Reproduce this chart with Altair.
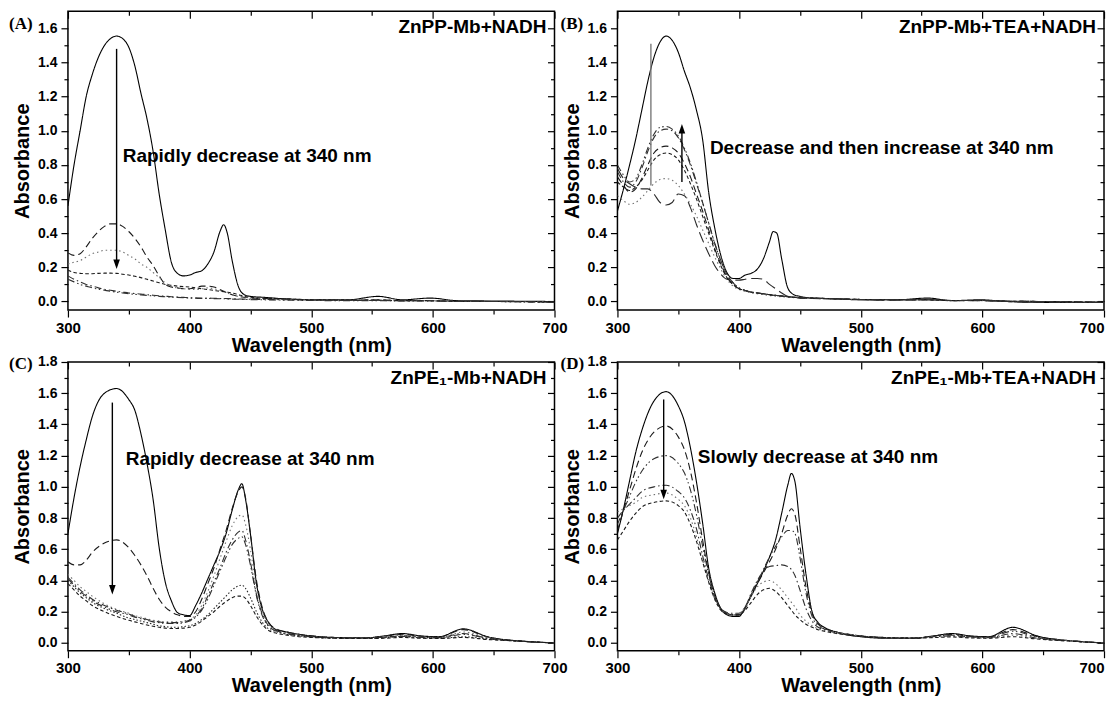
import altair as alt
import pandas as pd

FONT = "Liberation Sans"
SERIF = "Liberation Serif"

# ---------------- data: panels A/B (ZnPP-Mb) ----------------
wl_AB = [300, 305, 310, 315, 320, 325, 330, 335, 340, 345, 350, 355, 360, 365, 370, 375, 380, 385, 390, 395, 400,
         405, 410, 415, 420, 425, 428, 431, 435, 440, 445, 450,
         460, 480, 500, 530, 555, 575, 598, 620, 650, 700]

A_solid = [0.56, 0.80, 1.00, 1.20, 1.33, 1.43, 1.50, 1.54, 1.555, 1.54, 1.49, 1.38, 1.22, 1.07, 0.88, 0.63, 0.42, 0.23, 0.165, 0.15, 0.155,
           0.17, 0.18, 0.22, 0.29, 0.41, 0.45, 0.40, 0.24, 0.09, 0.04, 0.03,
           0.025, 0.015, 0.01, 0.01, 0.03, 0.01, 0.02, 0.005, 0.003, 0.0]
A_dash = [0.285, 0.27, 0.28, 0.32, 0.37, 0.41, 0.44, 0.455, 0.455, 0.44, 0.41, 0.37, 0.32, 0.26, 0.21, 0.15, 0.10, 0.085, 0.08, 0.075, 0.075,
          0.08, 0.09, 0.09, 0.085, 0.07, 0.06, 0.05, 0.04, 0.03, 0.025, 0.02,
          0.018, 0.015, 0.01, 0.008, 0.01, 0.005, 0.005, 0.0, 0.0, -0.005]
A_dot = [0.22, 0.23, 0.24, 0.26, 0.28, 0.29, 0.30, 0.30, 0.30, 0.29, 0.27, 0.25, 0.22, 0.20, 0.17, 0.14, 0.11, 0.09, 0.08, 0.075, 0.07,
         0.07, 0.075, 0.08, 0.075, 0.065, 0.06, 0.05, 0.04, 0.03, 0.025, 0.02,
         0.015, 0.012, 0.01, 0.008, 0.01, 0.005, 0.005, 0.0, 0.0, 0.0]
A_sdash = [0.185, 0.17, 0.165, 0.163, 0.163, 0.165, 0.166, 0.166, 0.165, 0.16, 0.155, 0.148, 0.14, 0.13, 0.12, 0.11, 0.10, 0.095, 0.09, 0.087, 0.085,
           0.08, 0.075, 0.07, 0.065, 0.06, 0.058, 0.055, 0.05, 0.04, 0.03, 0.025,
           0.02, 0.015, 0.01, 0.008, 0.008, 0.005, 0.005, 0.0, 0.0, 0.0]
A_dashdot = [0.15, 0.13, 0.115, 0.10, 0.09, 0.08, 0.072, 0.066, 0.06, 0.055, 0.05, 0.047, 0.044, 0.04, 0.037, 0.034, 0.031, 0.028, 0.026, 0.024, 0.022,
             0.021, 0.02, 0.02, 0.019, 0.018, 0.018, 0.017, 0.016, 0.015, 0.014, 0.013,
             0.012, 0.01, 0.008, 0.006, 0.006, 0.004, 0.004, 0.002, 0.0, -0.005]
A_dashdotdot = [0.13, 0.115, 0.10, 0.09, 0.08, 0.072, 0.066, 0.06, 0.055, 0.05, 0.046, 0.042, 0.039, 0.036, 0.033, 0.03, 0.028, 0.026, 0.024, 0.022, 0.02,
                0.019, 0.018, 0.018, 0.017, 0.016, 0.016, 0.015, 0.014, 0.013, 0.012, 0.011,
                0.01, 0.008, 0.006, 0.005, 0.005, 0.003, 0.003, 0.001, 0.0, -0.005]

B_solid = [0.53, 0.66, 0.80, 0.95, 1.12, 1.29, 1.43, 1.52, 1.555, 1.53, 1.46, 1.35, 1.25, 1.12, 0.95, 0.64, 0.43, 0.27, 0.17, 0.135, 0.135,
           0.155, 0.165, 0.19, 0.25, 0.35, 0.41, 0.40, 0.25, 0.08, 0.04, 0.03,
           0.02, 0.015, 0.01, 0.01, 0.02, 0.005, 0.01, 0.0, -0.005, -0.005]
B_ldash = [0.78, 0.72, 0.69, 0.67, 0.66, 0.66, 0.63, 0.58, 0.565, 0.58, 0.63, 0.62, 0.55, 0.45, 0.36, 0.28, 0.21, 0.16, 0.13, 0.125, 0.125,
           0.13, 0.135, 0.135, 0.13, 0.10, 0.085, 0.07, 0.05, 0.03, 0.025, 0.02,
           0.018, 0.015, 0.01, 0.008, 0.01, 0.005, 0.005, 0.0, -0.005, -0.005]
B_dot = [0.62, 0.59, 0.57, 0.58, 0.61, 0.65, 0.69, 0.715, 0.72, 0.71, 0.68, 0.63, 0.57, 0.50, 0.42, 0.34, 0.26, 0.19, 0.13, 0.09, 0.07,
         0.06, 0.05, 0.045, 0.04, 0.035, 0.033, 0.03, 0.028, 0.025, 0.023, 0.02,
         0.018, 0.015, 0.012, 0.01, 0.01, 0.005, 0.005, 0.0, 0.0, -0.005]
B_sdash = [0.70, 0.67, 0.65, 0.67, 0.71, 0.77, 0.83, 0.86, 0.87, 0.86, 0.83, 0.77, 0.69, 0.60, 0.50, 0.40, 0.30, 0.21, 0.14, 0.10, 0.075,
           0.065, 0.055, 0.05, 0.045, 0.04, 0.037, 0.035, 0.032, 0.028, 0.025, 0.022,
           0.02, 0.016, 0.012, 0.01, 0.01, 0.006, 0.006, 0.002, 0.0, -0.005]
B_dash = [0.73, 0.68, 0.64, 0.66, 0.72, 0.80, 0.87, 0.90, 0.91, 0.90, 0.87, 0.81, 0.73, 0.63, 0.53, 0.42, 0.31, 0.22, 0.145, 0.10, 0.075,
          0.065, 0.055, 0.05, 0.045, 0.04, 0.037, 0.035, 0.032, 0.028, 0.025, 0.022,
          0.02, 0.016, 0.012, 0.01, 0.01, 0.006, 0.006, 0.002, 0.0, -0.005]
B_dashdot = [0.76, 0.70, 0.67, 0.70, 0.78, 0.88, 0.96, 1.00, 1.01, 1.00, 0.96, 0.89, 0.80, 0.69, 0.58, 0.46, 0.34, 0.24, 0.16, 0.11, 0.08,
             0.065, 0.055, 0.05, 0.045, 0.04, 0.037, 0.035, 0.032, 0.028, 0.025, 0.022,
             0.02, 0.016, 0.012, 0.01, 0.01, 0.006, 0.006, 0.002, 0.0, -0.005]
B_dashdotdot = [0.80, 0.74, 0.70, 0.72, 0.80, 0.90, 0.98, 1.02, 1.025, 1.01, 0.97, 0.90, 0.81, 0.70, 0.58, 0.46, 0.34, 0.24, 0.16, 0.11, 0.08,
                0.065, 0.055, 0.05, 0.045, 0.04, 0.037, 0.035, 0.032, 0.028, 0.025, 0.022,
                0.02, 0.016, 0.012, 0.01, 0.01, 0.006, 0.006, 0.002, 0.0, -0.005]

# ---------------- data: panels C/D (ZnPE1-Mb) ----------------
wl_CD = [300, 305, 310, 315, 320, 330, 340, 350,
         355, 360, 365, 370, 375, 380, 385, 390, 395, 400,
         405, 410, 415, 420, 425, 430, 435, 440, 443, 446,
         450, 455, 460, 465, 470,
         480, 490, 500, 520, 545, 560, 575, 590, 605, 625, 645, 675, 700]

C_solid = [0.70, 0.93, 1.13, 1.30, 1.45, 1.60, 1.63, 1.56,
           1.49, 1.34, 1.15, 0.92, 0.61, 0.39, 0.27, 0.195, 0.18, 0.175,
           0.24, 0.32, 0.41, 0.50, 0.59, 0.70, 0.85, 0.98, 1.02, 0.92,
           0.70, 0.38, 0.21, 0.13, 0.09,
           0.07, 0.055, 0.045, 0.035, 0.033, 0.045, 0.06, 0.045, 0.04, 0.09, 0.04, 0.01, 0.0]
C_dash = [0.52, 0.50, 0.50, 0.53, 0.58, 0.64, 0.66, 0.61,
          0.56, 0.50, 0.43, 0.35, 0.28, 0.23, 0.20, 0.18, 0.17, 0.17,
          0.20, 0.28, 0.38, 0.48, 0.60, 0.72, 0.86, 0.97, 1.00, 0.93,
          0.70, 0.40, 0.22, 0.13, 0.095,
          0.07, 0.055, 0.045, 0.035, 0.033, 0.043, 0.055, 0.043, 0.038, 0.085, 0.038, 0.01, 0.0]
C_dot = [0.44, 0.40, 0.36, 0.33, 0.30, 0.25, 0.215, 0.19,
         0.175, 0.165, 0.155, 0.145, 0.14, 0.135, 0.135, 0.135, 0.14, 0.15,
         0.18, 0.24, 0.33, 0.43, 0.54, 0.65, 0.75, 0.81, 0.82, 0.76,
         0.60, 0.35, 0.20, 0.12, 0.09,
         0.065, 0.05, 0.042, 0.035, 0.033, 0.04, 0.05, 0.04, 0.035, 0.07, 0.035, 0.01, 0.0]
C_dashdot = [0.42, 0.38, 0.34, 0.31, 0.28, 0.24, 0.21, 0.185,
             0.17, 0.16, 0.15, 0.14, 0.135, 0.13, 0.13, 0.13, 0.135, 0.145,
             0.17, 0.22, 0.30, 0.39, 0.48, 0.58, 0.66, 0.71, 0.72, 0.66,
             0.52, 0.31, 0.18, 0.11, 0.085,
             0.06, 0.05, 0.04, 0.033, 0.032, 0.038, 0.045, 0.038, 0.035, 0.06, 0.03, 0.01, 0.0]
C_dashdotdot = [0.41, 0.37, 0.33, 0.30, 0.27, 0.23, 0.20, 0.18,
                0.165, 0.155, 0.145, 0.135, 0.13, 0.125, 0.125, 0.125, 0.13, 0.14,
                0.165, 0.21, 0.28, 0.37, 0.46, 0.55, 0.63, 0.67, 0.68, 0.63,
                0.50, 0.30, 0.17, 0.105, 0.08,
                0.06, 0.048, 0.04, 0.033, 0.032, 0.036, 0.042, 0.036, 0.033, 0.055, 0.03, 0.01, 0.0]
C_dot2 = [0.40, 0.36, 0.32, 0.29, 0.26, 0.22, 0.19, 0.16,
          0.15, 0.14, 0.13, 0.12, 0.11, 0.105, 0.10, 0.10, 0.105, 0.11,
          0.125, 0.15, 0.18, 0.22, 0.26, 0.30, 0.34, 0.365, 0.37, 0.35,
          0.29, 0.20, 0.13, 0.09, 0.075,
          0.055, 0.045, 0.038, 0.03, 0.03, 0.033, 0.04, 0.033, 0.03, 0.04, 0.025, 0.01, 0.0]
C_sdash = [0.38, 0.34, 0.30, 0.27, 0.24, 0.20, 0.17, 0.145,
           0.135, 0.125, 0.115, 0.107, 0.10, 0.095, 0.092, 0.092, 0.095, 0.10,
           0.115, 0.14, 0.17, 0.20, 0.235, 0.265, 0.29, 0.30, 0.30, 0.285,
           0.24, 0.17, 0.115, 0.08, 0.065,
           0.05, 0.04, 0.035, 0.03, 0.028, 0.03, 0.035, 0.03, 0.028, 0.035, 0.022, 0.01, 0.0]

D_solid = [0.70, 0.86, 1.04, 1.22, 1.36, 1.55, 1.61, 1.52,
           1.42, 1.25, 1.03, 0.77, 0.48, 0.32, 0.22, 0.18, 0.17, 0.17,
           0.23, 0.30, 0.38, 0.46, 0.55, 0.66, 0.83, 1.01, 1.086, 1.03,
           0.75, 0.44, 0.20, 0.13, 0.10,
           0.07, 0.05, 0.04, 0.03, 0.03, 0.045, 0.06, 0.045, 0.04, 0.10, 0.045, 0.012, 0.0]
D_dash = [0.72, 0.85, 0.98, 1.11, 1.22, 1.35, 1.39, 1.32,
          1.24, 1.10, 0.90, 0.66, 0.45, 0.30, 0.22, 0.19, 0.18, 0.18,
          0.22, 0.31, 0.38, 0.45, 0.52, 0.60, 0.70, 0.82, 0.86, 0.82,
          0.62, 0.36, 0.19, 0.12, 0.095,
          0.07, 0.055, 0.045, 0.035, 0.033, 0.045, 0.055, 0.042, 0.038, 0.085, 0.04, 0.012, 0.0]
D_dashdotdot = [0.76, 0.85, 0.94, 1.03, 1.10, 1.18, 1.20, 1.15,
                1.09, 0.98, 0.82, 0.62, 0.44, 0.30, 0.22, 0.19, 0.18, 0.18,
                0.22, 0.31, 0.39, 0.47, 0.55, 0.62, 0.68, 0.72, 0.72, 0.70,
                0.55, 0.32, 0.17, 0.11, 0.09,
                0.068, 0.055, 0.045, 0.035, 0.033, 0.042, 0.05, 0.04, 0.036, 0.075, 0.035, 0.012, 0.0]
D_dashdot = [0.80, 0.85, 0.89, 0.93, 0.97, 1.00, 1.01, 0.97,
             0.93, 0.85, 0.73, 0.56, 0.41, 0.29, 0.22, 0.195, 0.19, 0.19,
             0.23, 0.32, 0.40, 0.46, 0.49, 0.495, 0.50, 0.49, 0.47, 0.43,
             0.34, 0.22, 0.14, 0.10, 0.085,
             0.065, 0.055, 0.045, 0.035, 0.033, 0.04, 0.045, 0.038, 0.034, 0.06, 0.03, 0.012, 0.0]
D_dot = [0.84, 0.86, 0.88, 0.90, 0.93, 0.95, 0.96, 0.92,
         0.88, 0.80, 0.68, 0.53, 0.39, 0.28, 0.21, 0.19, 0.185, 0.19,
         0.23, 0.30, 0.36, 0.39, 0.40, 0.38, 0.34, 0.29, 0.26, 0.23,
         0.18, 0.14, 0.11, 0.09, 0.08,
         0.065, 0.055, 0.045, 0.035, 0.033, 0.038, 0.042, 0.035, 0.032, 0.05, 0.028, 0.012, 0.0]
D_sdash = [0.66, 0.72, 0.78, 0.83, 0.87, 0.90, 0.91, 0.88,
           0.84, 0.76, 0.65, 0.52, 0.39, 0.28, 0.21, 0.185, 0.18, 0.18,
           0.21, 0.26, 0.31, 0.34, 0.35, 0.33, 0.29, 0.24, 0.21, 0.18,
           0.15, 0.12, 0.10, 0.085, 0.075,
           0.06, 0.05, 0.042, 0.033, 0.03, 0.034, 0.038, 0.032, 0.03, 0.04, 0.025, 0.01, 0.0]

# ---------------- text / ticks / annotations ----------------
X_MAJOR = [300, 400, 500, 600, 700]
X_MINOR = [350, 450, 550, 650]
Y_MAJOR_AB = [0.0, 0.2, 0.4, 0.6, 0.8, 1.0, 1.2, 1.4, 1.6]
Y_MINOR_AB = [0.1, 0.3, 0.5, 0.7, 0.9, 1.1, 1.3, 1.5]
Y_MAJOR_CD = [0.0, 0.2, 0.4, 0.6, 0.8, 1.0, 1.2, 1.4, 1.6, 1.8]
Y_MINOR_CD = [0.1, 0.3, 0.5, 0.7, 0.9, 1.1, 1.3, 1.5, 1.7]

PANEL_LABELS = ["(A)", "(B)", "(C)", "(D)"]
PANEL_TITLES = ["ZnPP-Mb+NADH", "ZnPP-Mb+TEA+NADH", "ZnPE\u2081-Mb+NADH", "ZnPE\u2081-Mb+TEA+NADH"]
NOTES = ["Rapidly decrease at 340 nm", "Decrease and then increase at 340 nm",
         "Rapidly decrease at 340 nm", "Slowly decrease at 340 nm"]
NOTE_X = [345, 376, 347.5, 366]
NOTE_Y = [0.853, 0.90, 1.18, 1.19]

ARROWS = [
    {"x": [340], "y1": [1.48], "y2": [0.21], "c": ["#000000"]},
    {"x": [327.5, 353], "y1": [1.51, 0.70], "y2": [0.68, 1.02], "c": ["#7a7a7a", "#000000"]},
    {"x": [336.5], "y1": [1.54], "y2": [0.33], "c": ["#000000"]},
    {"x": [338], "y1": [1.56], "y2": [0.94], "c": ["#000000"]},
]
HEADS = [
    {"x": [340], "y": [0.19], "d": ["down"]},
    {"x": [353], "y": [1.04], "d": ["up"]},
    {"x": [336.5], "y": [0.31], "d": ["down"]},
    {"x": [338], "y": [0.92], "d": ["down"]},
]

STYLE_NAMES = ["solid", "dash", "ldash", "dot", "dot2", "sdash", "dashdot", "dashdotdot"]
STYLE_DASH = [[1, 0], [7, 4], [11, 5], [1.5, 3], [1.5, 2], [3.5, 2.5], [7, 3, 1.5, 3], [7, 3, 1.5, 2.5, 1.5, 3]]
STYLE_COLOR = ["#000000", "#1a1a1a", "#2a2a2a", "#707070", "#2a2a2a", "#1a1a1a", "#303030", "#303030"]

HEAD_PATHS = ["M-1.1,-3.2L1.1,-3.2L0,0Z", "M-1.1,3.2L1.1,3.2L0,0Z"]

PANEL_W = 487
ROW1_H = 299
ROW2_H = 289
MAJOR_T = 7
MINOR_T = 4
TICKSTYLE = dict(domain=False, grid=False, tickColor="black", tickWidth=1.2)
AX = dict(labelFont=FONT, labelFontWeight="bold", labelColor="black", labelFlush=False,
          titleFont=FONT, titleFontWeight="bold", titleColor="black", titleFontSize=20, **TICKSTYLE)
XTICK = {"condition": {"test": "datum.value % 100 != 0", "value": MINOR_T}, "value": MAJOR_T}
YTICK = {"condition": {"test": "round(datum.value * 10) % 2 == 1", "value": MINOR_T}, "value": MAJOR_T}


def inner_ticks(xs, ys, xvals, yvals, size):
    """Invisible layer whose top/right axes draw inward-pointing mirror ticks."""
    return alt.Chart(pd.DataFrame({"wl": [300, 700], "A": [0.0, 1.0]})).mark_point(opacity=0).encode(
        x=alt.X("wl:Q", scale=xs, axis=alt.Axis(orient="top", values=xvals, labels=False, title=None,
                                                  tickSize=size, offset=-size, **TICKSTYLE)),
        y=alt.Y("A:Q", scale=ys, axis=alt.Axis(orient="right", values=yvals, labels=False, title=None,
                                                 tickSize=size, offset=-size, **TICKSTYLE)),
    )


def panel(wl, series, ymax, ymaj, ymin, h, idx, label_dx, label_y, right_col):
    rows = []
    for name, vals in series.items():
        assert len(vals) == len(wl), (PANEL_LABELS[idx], name, len(vals))
        for x, y in zip(wl, vals):
            rows.append({"wl": x, "A": y, "s": name})
    df = pd.DataFrame(rows)
    xs = alt.Scale(domain=[300, 700], nice=False, zero=False)
    ys = alt.Scale(domain=[-0.05, ymax], nice=False, zero=False)

    extra = {}
    if right_col:
        extra["labelAlign"] = {"condition": {"test": "datum.value == 700", "value": "right"}, "value": "center"}
    x_axis = alt.Axis(values=sorted(X_MAJOR + X_MINOR),
                      labelExpr="datum.value % 100 == 0 ? datum.label : ''",
                      tickSize=XTICK, labelFontSize=15, labelPadding=3, title="Wavelength (nm)",
                      titlePadding=0, **extra, **AX)
    y_axis = alt.Axis(values=sorted(ymaj + ymin), format=".1f",
                      labelExpr="round(datum.value * 10) % 2 == 0 ? datum.label : ''",
                      tickSize=YTICK, labelFontSize=14, labelPadding=4, title="Absorbance",
                      titlePadding=5, **AX)

    lines = alt.Chart(df).mark_line(clip=True, interpolate="monotone", strokeWidth=1.1).encode(
        x=alt.X("wl:Q", scale=xs, axis=x_axis),
        y=alt.Y("A:Q", scale=ys, axis=y_axis),
        detail="s:N",
        color=alt.Color("s:N", scale=alt.Scale(domain=STYLE_NAMES, range=STYLE_COLOR), legend=None),
        strokeDash=alt.StrokeDash("s:N", scale=alt.Scale(domain=STYLE_NAMES, range=STYLE_DASH), legend=None),
    )

    mirror_major = inner_ticks(xs, ys, X_MAJOR, ymaj, MAJOR_T)
    mirror_minor = inner_ticks(xs, ys, X_MINOR, ymin, MINOR_T)

    note = alt.Chart(pd.DataFrame({"x": [NOTE_X[idx]], "y": [NOTE_Y[idx]], "t": [NOTES[idx]]})).mark_text(
        align="left", baseline="middle", font=FONT, fontWeight="bold", fontSize=19, color="black"
    ).encode(x=alt.X("x:Q", scale=xs, axis=None), y=alt.Y("y:Q", scale=ys, axis=None), text="t:N")

    title = alt.Chart(pd.DataFrame({"t": [PANEL_TITLES[idx]]})).mark_text(
        align="right", baseline="alphabetic", font=FONT, fontWeight="bold", fontSize=19, color="black"
    ).encode(x=alt.value(PANEL_W - 8), y=alt.value(22), text="t:N")

    label = alt.Chart(pd.DataFrame({"t": [PANEL_LABELS[idx]]})).mark_text(
        align="left", baseline="alphabetic", font=SERIF, fontWeight="bold", fontSize=17, color="black"
    ).encode(x=alt.value(label_dx), y=alt.value(label_y), text="t:N")

    a = ARROWS[idx]
    rules = alt.Chart(pd.DataFrame(a)).mark_rule(strokeWidth=1.4).encode(
        x=alt.X("x:Q", scale=xs, axis=None), y=alt.Y("y1:Q", scale=ys, axis=None), y2="y2:Q",
        color=alt.Color("c:N", scale=None))

    hd = HEADS[idx]
    heads = alt.Chart(pd.DataFrame(hd)).mark_point(filled=True, size=36, opacity=1, color="black").encode(
        x=alt.X("x:Q", scale=xs, axis=None), y=alt.Y("y:Q", scale=ys, axis=None),
        shape=alt.Shape("d:N", scale=alt.Scale(domain=["down", "up"], range=HEAD_PATHS), legend=None))

    return alt.layer(lines, mirror_major, mirror_minor, note, title, label, rules, heads).resolve_axis(
        x="independent", y="independent").properties(width=PANEL_W, height=h)


pA = panel(wl_AB, {"solid": A_solid, "dash": A_dash, "dot": A_dot, "sdash": A_sdash,
                   "dashdot": A_dashdot, "dashdotdot": A_dashdotdot}, 1.7, Y_MAJOR_AB, Y_MINOR_AB,
           ROW1_H, 0, -59, 18, False)
pB = panel(wl_AB, {"solid": B_solid, "ldash": B_ldash, "dot": B_dot, "sdash": B_sdash, "dash": B_dash,
                   "dashdot": B_dashdot, "dashdotdot": B_dashdotdot}, 1.7, Y_MAJOR_AB, Y_MINOR_AB,
           ROW1_H, 1, -57, 18, True)
pC = panel(wl_CD, {"solid": C_solid, "dash": C_dash, "dot": C_dot, "dashdot": C_dashdot,
                   "dashdotdot": C_dashdotdot, "dot2": C_dot2, "sdash": C_sdash}, 1.8, Y_MAJOR_CD, Y_MINOR_CD,
           ROW2_H, 2, -59, 7, False)
pD = panel(wl_CD, {"solid": D_solid, "dash": D_dash, "dashdotdot": D_dashdotdot, "dashdot": D_dashdot,
                   "dot": D_dot, "sdash": D_sdash}, 1.8, Y_MAJOR_CD, Y_MINOR_CD,
           ROW2_H, 3, -57, 7, True)

chart = alt.concat(pA, pB, pC, pD, columns=2, spacing={"row": 52, "column": 63}, bounds="flush").properties(
    padding={"left": 0, "right": 0, "top": 1, "bottom": 0}
).configure_view(stroke="black", strokeWidth=1.5)

chart.save("out.html", embed_options={"renderer": "svg", "actions": False})
